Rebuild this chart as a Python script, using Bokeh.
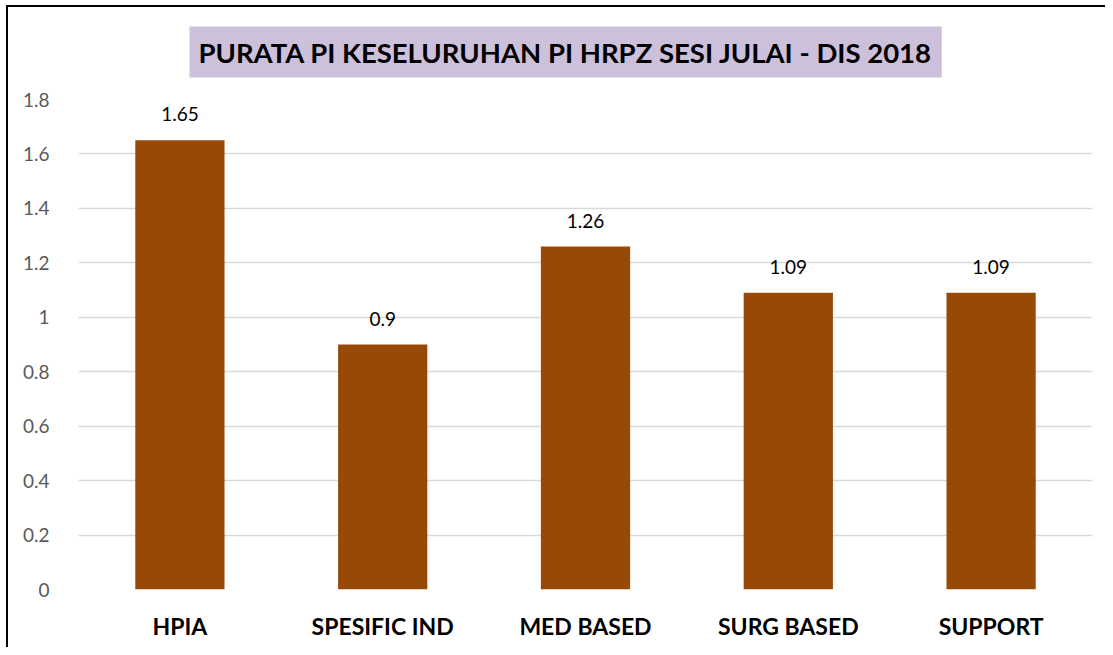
from bokeh.plotting import figure
from bokeh.models import ColumnDataSource, LabelSet, Title, Range1d, FixedTicker
from bokeh.core.properties import value
from bokeh.embed import file_html
from bokeh.resources import INLINE

categories = ["HPIA", "SPESIFIC IND", "MED BASED", "SURG BASED", "SUPPORT"]
values = [1.65, 0.9, 1.26, 1.09, 1.09]
labels = ["1.65", "0.9", "1.26", "1.09", "1.09"]
y_ticks = [0, 0.2, 0.4, 0.6, 0.8, 1.0, 1.2, 1.4, 1.6, 1.8]
y_tick_labels = {0: "0", 0.2: "0.2", 0.4: "0.4", 0.6: "0.6", 0.8: "0.8", 1.0: "1",
                 1.2: "1.2", 1.4: "1.4", 1.6: "1.6", 1.8: "1.8"}

FONT = "Lato"

src = ColumnDataSource(dict(cat=categories, val=values, lab=labels))

p = figure(x_range=categories, y_range=Range1d(0, 1.8), width=1105, height=647,
           output_backend="svg", toolbar_location=None,
           min_border_left=78, min_border_right=13, min_border_top=99, min_border_bottom=58)
p.outline_line_color = None
p.background_fill_color = "white"
p.border_fill_alpha = 0
p.styles = {"background-color": "white",
            "box-shadow": "inset 6px 5px 0 0 white, inset 8px 7px 0 0 black"}

p.vbar(x="cat", top="val", width=0.44, source=src, color="#984807", line_color=None)

p.add_layout(LabelSet(x="cat", y="val", text="lab", source=src, text_align="center",
                      text_baseline="bottom", y_offset=19, text_font_size="19px",
                      text_font=value(FONT), text_color="black"))

p.title = Title(text="PURATA PI KESELURUHAN PI HRPZ SESI JULAI - DIS 2018", align="left",
                offset=111, text_font=FONT, text_font_size="27.5px", text_font_style="bold",
                text_color="black", background_fill_color="#CCC0DA", padding=9,
                standoff=44)
p.title_location = "above"

p.ygrid.grid_line_color = "#D9D9D9"
p.ygrid.grid_line_width = 1.5
p.xgrid.grid_line_color = None

p.yaxis.ticker = FixedTicker(ticks=y_ticks)
p.yaxis.major_label_overrides = y_tick_labels
p.yaxis.axis_line_color = None
p.yaxis.major_tick_line_color = None
p.yaxis.minor_tick_line_color = None
p.yaxis.major_label_text_font = FONT
p.yaxis.major_label_text_font_size = "19px"
p.yaxis.major_label_text_color = "#595959"
p.yaxis.major_label_standoff = 23

p.xaxis.axis_line_color = None
p.xaxis.major_tick_line_color = None
p.xaxis.major_label_text_font = FONT
p.xaxis.major_label_text_font_size = "23px"
p.xaxis.major_label_text_font_style = "bold"
p.xaxis.major_label_text_color = "black"
p.xaxis.major_label_standoff = 16

open("out.html", "w").write(file_html(p, INLINE))
